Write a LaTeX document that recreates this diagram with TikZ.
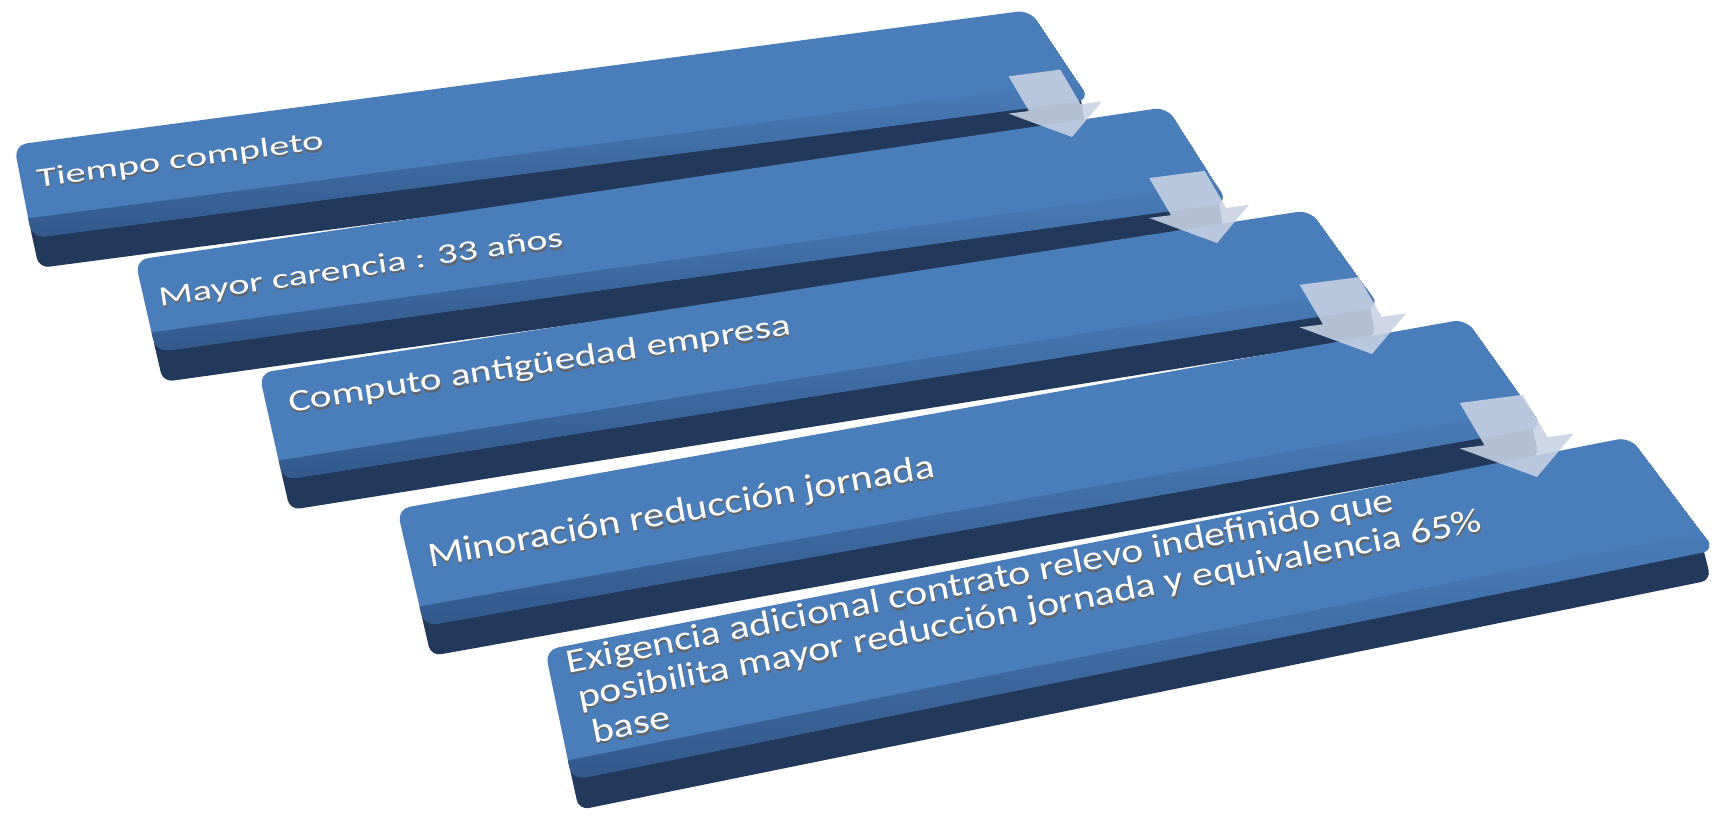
\documentclass[tikz,border=0pt]{standalone}
\usepackage{fontspec}
\setmainfont{Carlito}
\usetikzlibrary{calc}
\definecolor{slabtop}{RGB}{74,126,186}
\definecolor{slabbevel}{RGB}{50,87,138}
\definecolor{slabfront}{RGB}{35,57,92}
\definecolor{arrowfill}{RGB}{200,210,227}
\definecolor{txtshadow}{RGB}{100,100,100}

% #1 id, #2 A, #3 B, #4 C, #5 D, #6 angle of front edge, #7 length of front edge
\newcommand\drawslab[7]{%
  \coordinate (#1A) at #2;
  \coordinate (#1B) at #3;
  \coordinate (#1C) at #4;
  \coordinate (#1D) at #5;
  \fill[frontface] ($(#1D)!0.2!(#1A)$) -- ($(#1C)!0.2!(#1B)$) -- ($(#1C)+(-4,30)$) -- ($(#1D)+(7,30)$) -- cycle;
  \begin{scope}
    \path[clip, rounded corners=13pt] (#1A) -- (#1B) -- (#1C) -- (#1D) -- cycle;
    \fill[slabtop] (#1A) -- (#1B) -- (#1C) -- (#1D) -- cycle;
    \begin{scope}[shift={(#1D)}, rotate=#6]
      \shade[top color=slabtop, bottom color=slabbevel] (-40,-20) rectangle (#7+40,2);
    \end{scope}
  \end{scope}
}
% #1 tip, #2 scale
\newcommand\steparrow[2]{%
  \fill[stepdown, shift={#1}, scale=#2] (-63.4,-60.7) -- (-11.7,-67.4) -- (8.6,-32.7) -- (30,-35.7) -- (0,0) -- (-63.4,-23.4) -- (-43,-26) -- cycle;
}
% #1 name, #2 position, #3 angle, #4 size, #5 xscale, #6 text
\newcommand\slabtext[6]{%
  \node[lblshadow, rotate=#3, xscale=#5, font=\fontsize{#4}{#4}\selectfont] at ($#2+(0.8,2.4)$) {#6};
  \node[lbl, rotate=#3, xscale=#5, font=\fontsize{#4}{#4}\selectfont] (#1) at #2 {#6};
}

\begin{document}
\begin{tikzpicture}[x=1pt,y=-1pt,
  frontface/.style={fill=slabfront, rounded corners=10pt},
  stepdown/.style={fill=arrowfill, fill opacity=0.88},
  lbl/.style={text=white, anchor=base west, inner sep=0pt, outer sep=0pt},
  lblshadow/.style={text=txtshadow, anchor=base west, inner sep=0pt, outer sep=0pt},
]
\useasboundingbox (0,0) rectangle (1723,816);

\drawslab{s1}{(14,145)}{(1030,10)}{(1090,100)}{(32,238)}{7.43}{1067}
\drawslab{s2}{(135,260)}{(1167,107)}{(1228,203)}{(156,352)}{7.91}{1082}
\drawslab{s3}{(259,373)}{(1310,210)}{(1380,307)}{(283,480)}{8.96}{1111}
\drawslab{s4}{(397,509)}{(1466,319)}{(1543,427)}{(424,626)}{10.08}{1137}
\drawslab{s5}{(545,650)}{(1630,437)}{(1715,550)}{(572,780)}{11.38}{1166}

\slabtext{t1}{(38,187)}{7.6}{27}{1.5}{Tiempo completo}
\slabtext{t2}{(160,306)}{8.4}{28}{1.43}{Mayor carencia : 33 años}
\slabtext{t3}{(290,412)}{8.8}{31}{1.33}{Computo antigüedad empresa}
\slabtext{t4}{(430,567)}{10.1}{35}{1.2}{Minoración reducción jornada}
\slabtext{t5a}{(568,673)}{11.1}{34}{1.23}{Exigencia adicional contrato relevo indefinido que}
\slabtext{t5b}{(580,708)}{11.1}{34}{1.23}{posibilita mayor reducción jornada y equivalencia 65\%}
\slabtext{t5c}{(594,743)}{11.1}{34}{1.23}{base}

\steparrow{(1072,137)}{1.0}
\steparrow{(1217,243)}{1.07}
\steparrow{(1372,354)}{1.14}
\steparrow{(1537,477)}{1.22}
\end{tikzpicture}
\end{document}
